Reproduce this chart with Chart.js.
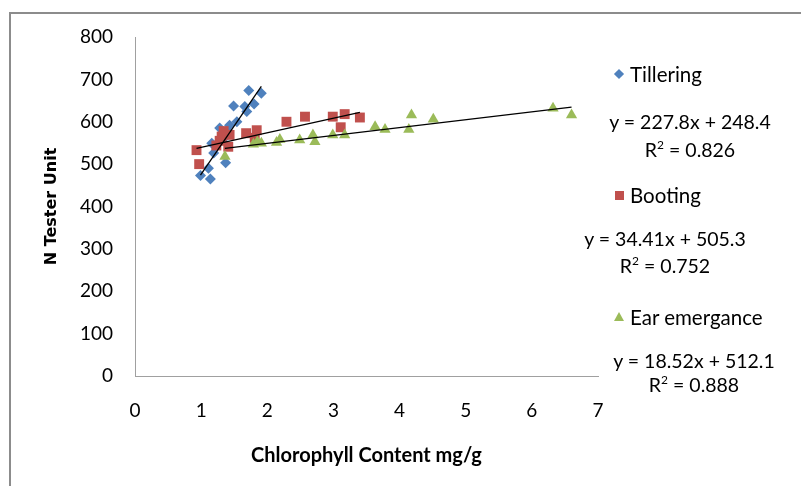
<!DOCTYPE html>
<html>
<head>
<meta charset="utf-8">
<script src="https://cdn.jsdelivr.net/npm/chart.js@4.4.0/dist/chart.umd.min.js"></script>
<style>
  html, body { margin:0; padding:0; width:801px; height:486px; overflow:hidden; background:#fff; }
  #frame { position:absolute; left:9px; top:12px; width:900px; height:600px; border-left:2px solid #8c8c8c; border-top:2px solid #8c8c8c; }
  #wrap { position:absolute; left:0; top:0; width:801px; height:486px; }
  .lg { position:absolute; font-family: Lato, "Liberation Sans", sans-serif; font-size:19.5px; color:#000; white-space:nowrap; line-height:20px; }
  .nm { font-size:20.5px; }
  .ctr { transform: translateX(-50%); }
  .mk { position:absolute; }
</style>
</head>
<body>
<div id="frame"></div>
<div id="wrap"><canvas id="c" width="801" height="486"></canvas></div>
<div id="legend"></div>
<script>
// ---- data ----
const seriesNames = ["Tillering", "Booting", "Ear emergance"];
const tilleringX = [0.99, 1.14, 1.11, 1.37, 1.19, 1.16, 1.28, 1.43, 1.54, 1.49, 1.66, 1.69, 1.80, 1.72, 1.91, 1.34, 1.40];
const tilleringY = [473, 465, 490, 503, 526, 549, 585, 592, 600, 637, 636, 624, 642, 674, 667, 560, 578];
const bootingX = [0.93, 0.97, 1.23, 1.41, 1.31, 1.43, 1.34, 1.28, 1.68, 1.84, 1.81, 2.29, 2.57, 2.99, 3.17, 3.11, 3.40];
const bootingY = [533, 500, 544, 541, 565, 569, 578, 555, 573, 580, 562, 600, 612, 612, 618, 587, 610];
const earX = [1.36, 1.79, 1.91, 1.85, 2.14, 2.19, 2.49, 2.69, 2.72, 2.99, 3.17, 3.63, 3.78, 4.14, 4.18, 4.51, 6.32, 6.60];
const earY = [518, 547, 549, 553, 551, 558, 557, 569, 553, 569, 569, 588, 582, 582, 616, 606, 632, 616];
const slopes = [227.8, 34.41, 18.52];
const intercepts = [248.4, 505.3, 512.1];
const r2Values = ["0.826", "0.752", "0.888"];
const xTicks = [0, 1, 2, 3, 4, 5, 6, 7];
const yTicks = [0, 100, 200, 300, 400, 500, 600, 700, 800];

const colors = ["#4F81BD", "#C0504D", "#9BBB59"];
const styles = ["rectRot", "rect", "triangle"];
const radii = [5.5, 7, 6.5];

const xs = [tilleringX, bootingX, earX];
const ys = [tilleringY, bootingY, earY];

const datasets = [];
for (let i = 0; i < 3; i++) {
  const pts = xs[i].map((x, k) => ({x: x, y: ys[i][k]}));
  datasets.push({
    label: seriesNames[i], data: pts, type: 'scatter',
    pointStyle: styles[i], pointRadius: radii[i], pointHoverRadius: radii[i],
    backgroundColor: colors[i], borderColor: colors[i], borderWidth: 0,
    order: 3 - i
  });
}
for (let i = 0; i < 3; i++) {
  const mn = Math.min(...xs[i]), mx = Math.max(...xs[i]);
  datasets.push({
    label: 'trend ' + seriesNames[i], type: 'line',
    data: [{x: mn, y: slopes[i]*mn + intercepts[i]}, {x: mx, y: slopes[i]*mx + intercepts[i]}],
    borderColor: '#000', borderWidth: 1.3, pointRadius: 0, fill: false, order: 0
  });
}

new Chart(document.getElementById('c'), {
  type: 'scatter',
  data: { datasets: datasets },
  options: {
    responsive: false, animation: false,
    layout: { padding: { left: 0, top: 37, right: 203, bottom: 0 } },
    plugins: { legend: { display: false }, tooltip: { enabled: false } },
    scales: {
      x: {
        type: 'linear', min: 0, max: 7,
        afterBuildTicks: s => { s.ticks = xTicks.map(v => ({value: v})); },
        afterFit: s => { s.height = 110; },
        grid: { display: true, drawOnChartArea: false, drawTicks: false },
        border: { display: true, color: '#a0a0a0', width: 1 },
        ticks: { padding: 23, color: '#000', font: { family: 'Lato', size: 19 } },
        title: { display: true, text: 'Chlorophyll Content mg/g', color: '#000',
                 font: { family: 'Lato', size: 20, weight: 'bold' }, padding: { top: 0, bottom: 18 } }
      },
      y: {
        type: 'linear', min: 0, max: 800,
        afterBuildTicks: s => { s.ticks = yTicks.map(v => ({value: v})); },
        afterFit: s => { s.width = 135; },
        grid: { display: true, drawOnChartArea: false, drawTicks: false },
        border: { display: true, color: '#a0a0a0', width: 1 },
        ticks: { padding: 22, color: '#000', font: { family: 'Lato', size: 19 } },
        title: { display: true, text: 'N Tester Unit', color: '#000',
                 font: { family: 'DejaVu Sans', size: 16, weight: 'bold' }, padding: { top: 42, bottom: 0 } }
      }
    }
  }
});

// ---- legend (HTML text) ----
const lg = document.getElementById('legend');
const markerY = [74, 195, 317];
const eqY = [122, 239, 361];
const r2Y = [150, 266, 385];
const eqCX = [690, 665, 694];
function add(html, cls, left, top) {
  const d = document.createElement('div');
  d.className = 'lg ' + cls; d.style.left = left + 'px'; d.style.top = (top - 10) + 'px';
  d.innerHTML = html; lg.appendChild(d);
}
for (let i = 0; i < 3; i++) {
  const m = document.createElement('div');
  m.className = 'mk';
  if (i === 0) {
    m.style.cssText = `left:${619-4}px;top:${markerY[i]-4}px;width:8px;height:8px;background:${colors[i]};transform:rotate(45deg) scale(0.9);`;
  } else if (i === 1) {
    m.style.cssText = `left:${619-4.5}px;top:${markerY[i]-4.5}px;width:9px;height:9px;background:${colors[i]};`;
  } else {
    m.style.cssText = `left:${619-5}px;top:${markerY[i]-5}px;width:0;height:0;border-left:5px solid transparent;border-right:5px solid transparent;border-bottom:9px solid ${colors[i]};`;
  }
  lg.appendChild(m);
  add(seriesNames[i], 'nm', 630, markerY[i]);
  const sign = intercepts[i] >= 0 ? '+' : '-';
  add('y = ' + slopes[i] + 'x ' + sign + ' ' + Math.abs(intercepts[i]), 'ctr', eqCX[i], eqY[i]);
  add('R<sup style="font-size:12px;vertical-align:8px;line-height:0">2</sup> = ' + r2Values[i], 'ctr', eqCX[i], r2Y[i]);
}
</script>
</body>
</html>
